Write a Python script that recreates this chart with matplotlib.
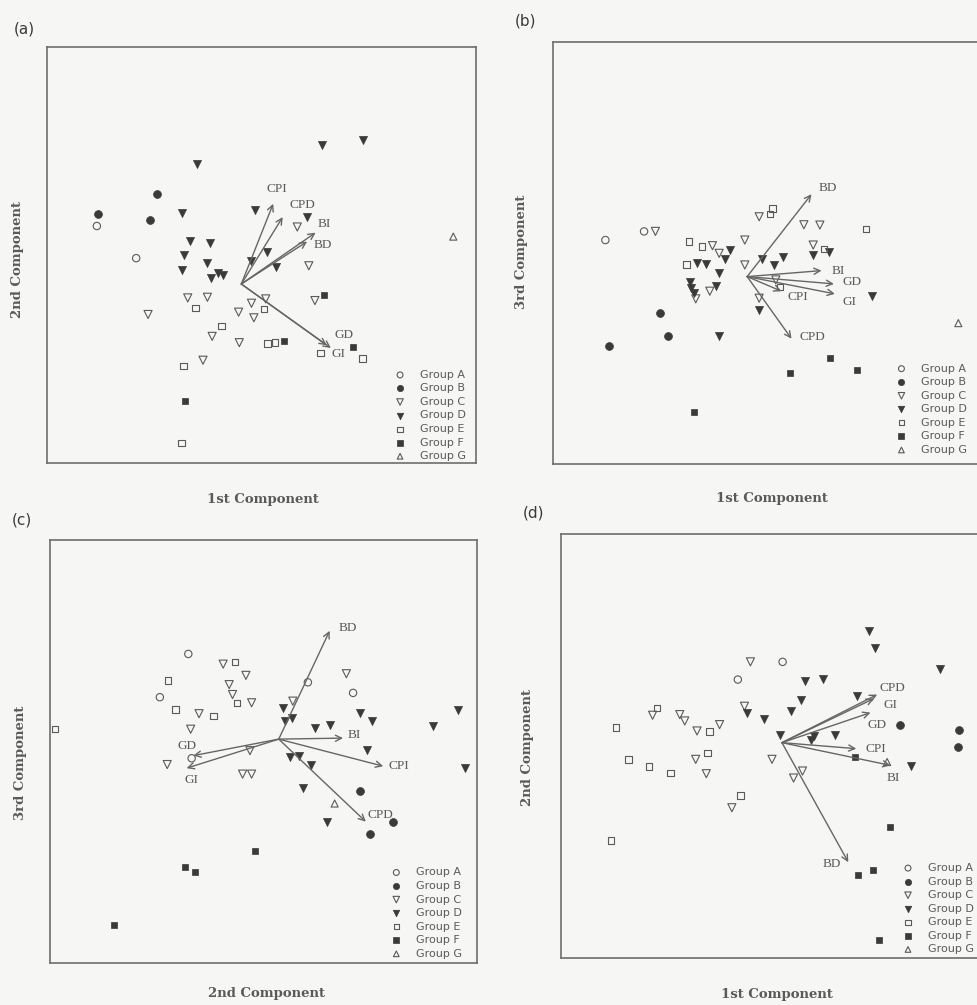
import numpy as np
import matplotlib.pyplot as plt

# four PCA biplots (component scores + loading arrows)

groups = ['Group A', 'Group B', 'Group C', 'Group D', 'Group E', 'Group F', 'Group G']
loadings = ['CPI', 'CPD', 'BI', 'BD', 'GD', 'GI']

# --- panel (a): 1st vs 2nd component
a_A = [(-4.26, 1.75), (-3.10, 0.78)]
a_B = [(-4.23, 2.12), (-2.48, 2.72), (-2.70, 1.92)]
a_C = [(1.65, 1.72), (1.99, 0.55), (-1.58, -0.42), (-1.00, -0.40), (-2.75, -0.92), (0.30, -0.58),
       (-0.08, -0.85), (0.37, -1.02), (0.72, -0.45), (2.17, -0.50), (-0.86, -1.58), (-0.06, -1.77),
       (-1.13, -2.30)]
a_D = [(-1.31, 3.62), (2.37, 4.18), (3.60, 4.33), (-1.75, 2.13), (0.39, 2.23), (1.94, 2.03),
       (-1.51, 1.30), (-0.93, 1.23), (-1.68, 0.88), (-1.01, 0.63), (-1.75, 0.43), (-0.90, 0.18),
       (-0.70, 0.32), (-0.53, 0.28), (0.77, 0.98), (0.30, 0.70), (1.02, 0.50)]
a_E = [(-1.35, -0.72), (0.67, -0.75), (-0.58, -1.27), (0.77, -1.80), (1.00, -1.77), (2.34, -2.08),
       (3.57, -2.25), (-1.71, -2.47), (-1.76, -4.80)]
a_F = [(2.44, -0.33), (1.27, -1.72), (3.29, -1.90), (-1.65, -3.53)]
a_G = [(6.25, 1.43)]
a_load = [(0.94, 2.42), (1.22, 2.02), (2.19, 1.55), (1.94, 1.28), (2.52, -1.85), (2.64, -1.93)]

# --- panel (b): 1st vs 3rd component
b_A = [(-4.25, 1.10), (-3.09, 1.36)]
b_B = [(-2.62, -1.09), (-2.37, -1.79), (-4.14, -2.09)]
b_C = [(-2.75, 1.36), (0.36, 1.80), (1.70, 1.56), (2.18, 1.55), (-1.04, 0.93), (-0.84, 0.70),
       (-0.07, 1.10), (1.98, 0.95), (-0.07, 0.35), (0.86, -0.10), (-1.12, -0.44), (-1.54, -0.67),
       (0.36, -0.65)]
b_D = [(-1.49, 0.41), (-1.22, 0.38), (-0.52, 0.80), (-0.67, 0.53), (-0.85, 0.10), (-1.70, -0.17),
       (-1.69, -0.34), (-1.60, -0.50), (-0.94, -0.27), (0.45, 0.53), (0.81, 0.35), (1.06, 0.60),
       (1.98, 0.66), (2.45, 0.73), (3.75, -0.57), (0.36, -1.02), (-0.84, -1.79)]
b_E = [(0.76, 2.05), (0.68, 1.88), (3.56, 1.43), (-1.74, 1.06), (-1.35, 0.91), (-1.82, 0.36),
       (2.30, 0.83), (0.98, -0.32)]
b_F = [(2.48, -2.45), (3.30, -2.80), (1.28, -2.89), (-1.60, -4.09)]
b_G = [(6.33, -1.40)]
b_load = [(1.03, -0.44), (1.33, -1.87), (2.23, 0.18), (1.93, 2.48), (2.60, -0.22), (2.63, -0.52)]

# --- panel (c): 2nd vs 3rd component
c_A = [(-2.70, 2.58), (-3.55, 1.27), (0.87, 1.72), (2.22, 1.40), (-2.60, -0.58)]
c_B = [(2.42, -1.58), (3.42, -2.52), (2.72, -2.87)]
c_C = [(-1.66, 2.27), (-0.98, 1.93), (-1.48, 1.65), (-1.38, 1.35), (-0.81, 1.10), (-2.38, 0.77),
       (-2.63, 0.30), (0.42, 1.15), (-0.86, -0.35), (-3.33, -0.77), (-1.08, -1.06), (-0.81, -1.06),
       (2.02, 1.98)]
c_D = [(0.12, 0.93), (0.19, 0.55), (0.40, 0.63), (1.07, 0.35), (1.52, 0.42), (2.44, 0.80),
       (2.77, 0.55), (4.62, 0.40), (5.34, 0.88), (2.65, -0.32), (0.34, -0.53), (0.60, -0.52),
       (0.97, -0.78), (5.55, -0.87), (0.72, -1.48), (1.44, -2.50)]
c_E = [(-1.30, 2.33), (-3.31, 1.78), (-1.25, 1.10), (-3.08, 0.90), (-1.95, 0.70), (-6.68, 0.30)]
c_F = [(-0.70, -3.40), (-2.80, -3.88), (-2.51, -4.02), (-4.91, -5.63)]
c_G = [(1.67, -1.95)]
c_load = [(3.12, -0.82), (2.60, -2.50), (1.92, 0.03), (1.52, 3.28), (-2.55, -0.50), (-2.75, -0.88)]

# --- panel (d): 1st vs 2nd component (second set)
d_A = [(0.02, 2.42), (-1.33, 1.89)]
d_B = [(3.55, 0.52), (5.35, 0.39), (5.32, -0.13)]
d_C = [(-0.95, 2.42), (-3.90, 0.82), (-3.08, 0.84), (-2.93, 0.65), (-2.56, 0.35), (-1.88, 0.54),
       (-1.13, 1.09), (-0.30, -0.50), (-2.60, -0.50), (-2.28, -0.93), (-1.51, -1.95), (0.62, -0.85),
       (0.35, -1.06)]
d_D = [(2.62, 3.34), (2.80, 2.85), (4.77, 2.20), (0.70, 1.85), (1.25, 1.92), (0.57, 1.29),
       (2.27, 1.39), (0.27, 0.94), (-1.05, 0.90), (-0.53, 0.70), (-0.05, 0.24), (0.97, 0.20),
       (0.89, 0.07), (1.60, 0.22), (3.90, -0.70)]
d_E = [(-3.76, 1.04), (-5.00, 0.45), (-2.18, 0.34), (-2.25, -0.31), (-4.63, -0.51), (-4.01, -0.71),
       (-3.36, -0.91), (-1.25, -1.58), (-5.16, -2.93)]
d_F = [(2.19, -0.43), (3.27, -2.53), (2.30, -3.96), (2.74, -3.81), (2.92, -5.91)]
d_G = [(3.17, -0.58)]
d_load = [(2.24, -0.18), (2.87, 1.44), (3.27, -0.68), (2.00, -3.58), (2.67, 0.90), (2.77, 1.32)]

# ---- layout / style (not data)
ink = '#3a3a3a'
soft = '#5a5a5a'
bg = '#f6f6f4'

styles = [
    dict(marker='o', s=28, facecolors='none', edgecolors=soft, linewidths=0.8),
    dict(marker='o', s=32, c=ink, edgecolors=ink, linewidths=0.5),
    dict(marker='v', s=34, facecolors='none', edgecolors=soft, linewidths=0.8),
    dict(marker='v', s=34, c=ink, edgecolors=ink, linewidths=0.5),
    dict(marker='s', s=22, facecolors='none', edgecolors=soft, linewidths=0.8),
    dict(marker='s', s=22, c=ink, edgecolors=ink, linewidths=0.5),
    dict(marker='^', s=26, facecolors='none', edgecolors=soft, linewidths=0.8),
]

# label offsets from arrow tips (data units), order follows `loadings`
a_lab = [(0.11, 0.45), (0.58, 0.35), (0.25, 0.27), (0.45, -0.10), (0.50, 0.32), (0.23, -0.19)]
b_lab = [(0.48, -0.16), (0.63, 0.05), (0.50, -0.02), (0.50, 0.18), (0.55, 0.05), (0.45, -0.23)]
c_lab = [(0.48, 0.00), (0.42, 0.20), (0.35, 0.10), (0.55, 0.10), (-0.18, 0.30), (0.14, -0.37)]
d_lab = [(0.58, 0.00), (0.45, 0.21), (0.08, -0.38), (-0.51, -0.05), (0.18, -0.38), (0.50, -0.18)]

W, H = 977, 1005
fig = plt.figure(figsize=(W / 100, H / 100), dpi=100)
fig.patch.set_facecolor(bg)


def rect(l, t, r, b):
    return [l / W, 1 - b / H, (r - l) / W, (b - t) / H]


panels = [
    ('(a)', (24, 29), rect(47, 47, 476, 463), (-5.73, 6.92), (-5.40, 7.15),
     [a_A, a_B, a_C, a_D, a_E, a_F, a_G], a_load, a_lab, (0.810, 0.224)),
    ('(b)', (525, 21), rect(553, 42, 980, 464), (-5.82, 6.98), (-5.64, 7.06),
     [b_A, b_B, b_C, b_D, b_E, b_F, b_G], b_load, b_lab, (0.803, 0.238)),
    ('(c)', (22, 520), rect(50, 540, 477, 963), (-6.83, 5.92), (-6.78, 6.03),
     [c_A, c_B, c_C, c_D, c_E, c_F, c_G], c_load, c_lab, (0.798, 0.226)),
    ('(d)', (534, 513), rect(561, 534, 982, 958), (-6.66, 6.03), (-6.45, 6.25),
     [d_A, d_B, d_C, d_D, d_E, d_F, d_G], d_load, d_lab, (0.811, 0.224)),
]

for tag, tagpos, box, xl, yl, pts, load, lab, legpos in panels:
    ax = fig.add_axes(box)
    ax.set_facecolor(bg)
    ax.set_xlim(*xl)
    ax.set_ylim(*yl)
    ax.set_xticks([])
    ax.set_yticks([])
    for sp in ax.spines.values():
        sp.set_color('#6e6e6e')
        sp.set_linewidth(1.2)

    handles = []
    for g, p, st in zip(groups, pts, styles):
        p = np.array(p)
        h = ax.scatter(p[:, 0], p[:, 1], label=g, zorder=3, **st)
        handles.append(h)

    for name, (lx, ly), (ox, oy) in zip(loadings, load, lab):
        ax.annotate('', xy=(lx, ly), xytext=(0, 0),
                    arrowprops=dict(arrowstyle='->', color='#666666', lw=1.0,
                                    shrinkA=0, shrinkB=0, mutation_scale=11))
        ax.text(lx + ox, ly + oy, name, ha='center', va='center', fontsize=9.5,
                family='Liberation Serif', color=soft)

    ax.legend(handles=handles, loc='upper left', bbox_to_anchor=legpos, frameon=False,
              labelspacing=0.32, handlelength=1.0, handletextpad=1.3,
              borderpad=0, borderaxespad=0, markerscale=0.8, labelcolor=soft,
              prop={'family': 'DejaVu Sans', 'size': 8})

    fig.text(tagpos[0] / W, 1 - tagpos[1] / H, tag, fontsize=11,
             family='DejaVu Sans', color=ink, ha='center', va='center')

# axis titles
lab_kw = dict(family='DejaVu Serif', weight='bold', fontsize=9.5, color=soft,
              ha='center', va='center')
fig.text(263 / W, 1 - 500 / H, '1st Component', **lab_kw)
fig.text(772 / W, 1 - 498 / H, '1st Component', **lab_kw)
fig.text(267 / W, 1 - 993 / H, '2nd Component', **lab_kw)
fig.text(777 / W, 1 - 994 / H, '1st Component', **lab_kw)
fig.text(18 / W, 1 - 260 / H, '2nd Component', rotation=90, **lab_kw)
fig.text(522 / W, 1 - 252 / H, '3rd Component', rotation=90, **lab_kw)
fig.text(21 / W, 1 - 763 / H, '3rd Component', rotation=90, **lab_kw)
fig.text(527 / W, 1 - 747 / H, '2nd Component', rotation=90, **lab_kw)

fig.savefig('out.png', dpi=100, facecolor=bg)
